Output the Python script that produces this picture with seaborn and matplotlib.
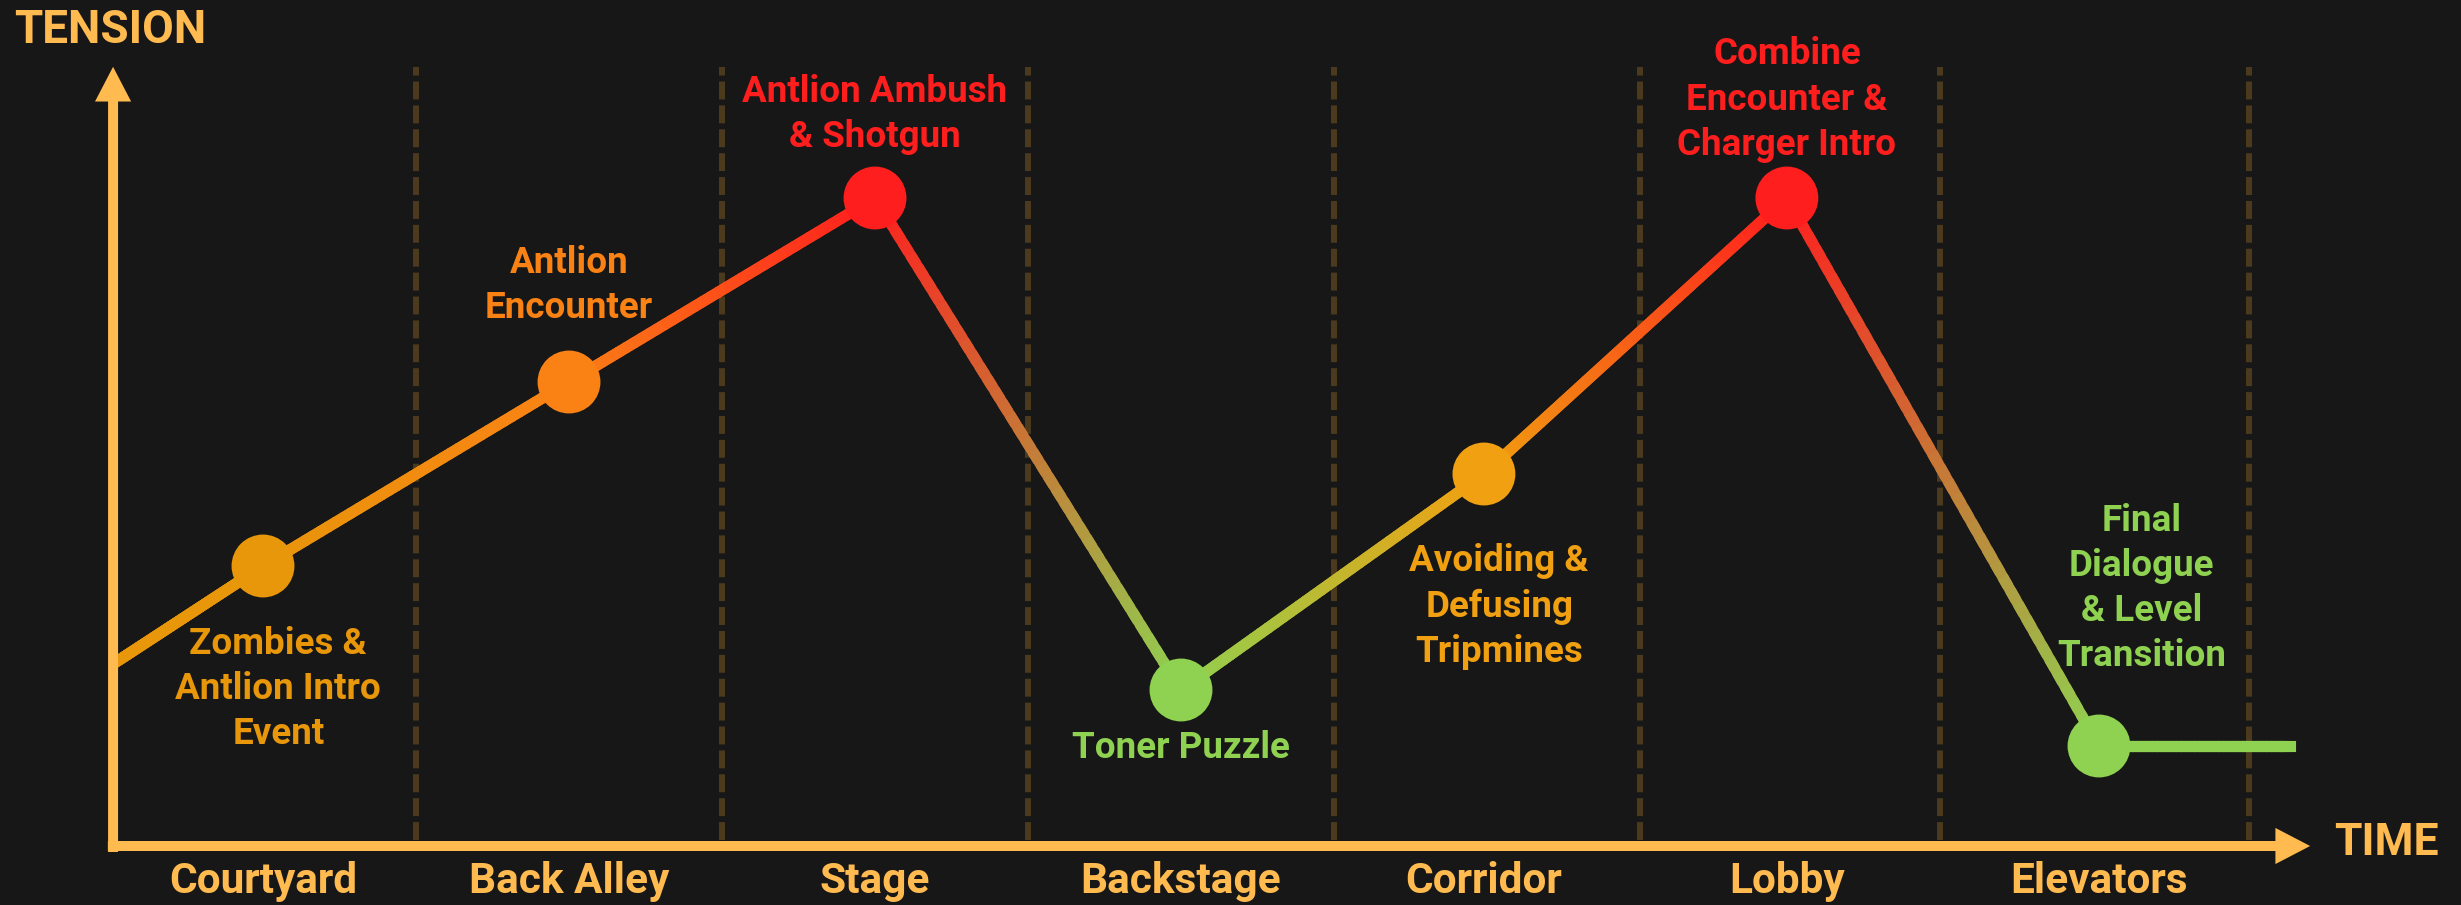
import numpy as np
import pandas as pd
import matplotlib.pyplot as plt
from matplotlib.collections import LineCollection
from matplotlib.colors import to_rgb
import seaborn as sns

# rooms along the time axis
rooms = ["Courtyard", "Back Alley", "Stage", "Backstage", "Corridor", "Lobby", "Elevators"]
room_x = [0, 1, 2, 3, 3.99, 4.98, 6.0]
room_edges = [0.5, 1.5, 2.5, 3.5, 4.5, 5.48, 6.49]

# beats of the level and their tension (0-10)
events = ["Zombies &\nAntlion Intro\nEvent", "Antlion\nEncounter", "Antlion Ambush\n& Shotgun",
          "Toner Puzzle", "Avoiding &\nDefusing\nTripmines", "Combine\nEncounter &\nCharger Intro",
          "Final\nDialogue\n& Level\nTransition"]
tension = [3.5, 5.8, 8.1, 1.95, 4.65, 8.1, 1.25]
event_colors = ["#E8960A", "#FA8215", "#FF1E1E", "#8FD150", "#F0A010", "#FF1E1E", "#8FD150"]

# curve comes in from the axis and runs out past the last beat
start_x, start_tension = -0.48, 2.3
end_x, end_tension = 6.625, 1.25

# where the beat captions sit
label_x = [0.05, 1.0, 2.0, 3.0, 4.04, 4.98, 6.14]
label_y = [1.96, 7.01, 9.14, 1.22, 2.99, 9.33, 3.22]

bg = "#171717"
gold = "#FFBA50"

sns.set_theme(style="dark", rc={"axes.facecolor": bg, "figure.facecolor": bg})
plt.rcParams['font.family'] = ['Roboto', 'DejaVu Sans']

fig = plt.figure(figsize=(24.61, 9.05), dpi=100)
ax = fig.add_axes([0, 0, 1, 1])

# room separators
ax.vlines(room_edges, 0.075, 9.74, colors="#4B3A1D", linewidth=4.3,
          linestyles=(0, (3, 1)), zorder=1)

# gradient tension curve
xs = [start_x] + room_x + [end_x]
ys = [start_tension] + tension + [end_tension]
cols = [event_colors[0]] + event_colors + [event_colors[-1]]
segs, seg_cols = [], []
n = 40
for i in range(len(xs) - 1):
    c0, c1 = np.array(to_rgb(cols[i])), np.array(to_rgb(cols[i + 1]))
    t = np.linspace(0, 1, n + 1)
    px = xs[i] + (xs[i + 1] - xs[i]) * t
    py = ys[i] + (ys[i + 1] - ys[i]) * t
    for k in range(n):
        segs.append([(px[k], py[k]), (px[k + 1], py[k + 1])])
        seg_cols.append(c0 + (c1 - c0) * (k + 0.5) / n)
lc = LineCollection(segs, colors=seg_cols, linewidths=8, capstyle='projecting', zorder=2)
ax.add_collection(lc)

df = pd.DataFrame({"x": room_x, "tension": tension, "event": events})
sns.scatterplot(data=df, x="x", y="tension", hue="event",
                palette=dict(zip(events, event_colors)), s=2050, linewidth=0,
                legend=False, ax=ax, zorder=4)
ax.set_xlim(-0.8595, 7.183)
ax.set_ylim(-0.7375, 10.575)
ax.axis('off')

for ev, lx, ly, c in zip(events, label_x, label_y, event_colors):
    ax.text(lx, ly, ev, color=c, ha='center', va='center', fontsize=26.5,
            fontweight='bold', linespacing=1.33, zorder=5)

for r, x in zip(rooms, room_x):
    ax.text(x, -0.44, r, color=gold, ha='center', va='center', fontsize=30.5,
            fontweight='bold')

# axes with arrow heads
arrow = dict(arrowstyle='simple,head_length=25,head_width=26,tail_width=7.2',
             mutation_scale=1, color=gold, lw=0, shrinkA=0, shrinkB=0)
ax.annotate('', xy=(-0.49, 9.74), xytext=(-0.49, -0.075), arrowprops=arrow, zorder=6)
ax.annotate('', xy=(6.69, 0), xytext=(-0.507, 0), arrowprops=arrow, zorder=6)

ax.text(-0.814, 10.2, "TENSION", color=gold, ha='left', va='center',
        fontsize=33, fontweight='bold')
ax.text(6.768, 0.04, "TIME", color=gold, ha='left', va='center',
        fontsize=32, fontweight='bold')

fig.savefig("out.png", dpi=100, facecolor=bg)
